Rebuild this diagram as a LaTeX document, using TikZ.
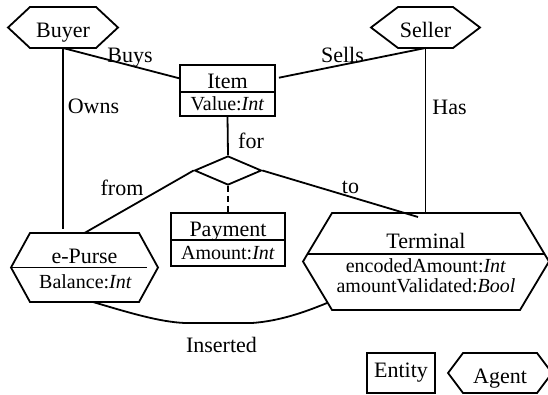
\documentclass[tikz,border=0pt]{standalone}
\usepackage{fontspec}
\setmainfont{Liberation Serif}
\usetikzlibrary{positioning,shapes.geometric}

\newcommand\namefont{\fontsize{22}{26}\selectfont}
\newcommand\attrfont{\fontsize{20}{24}\selectfont}

% hexagon round a node: node name, length of the points
\newcommand\agenthex[2]{%
  \draw[conn] (#1.north west) -- (#1.north east) -- ([xshift=#2]#1.east)
    -- (#1.south east) -- (#1.south west) -- ([xshift=-#2]#1.west) -- cycle;}

\tikzset{
  conn/.style={line width=1.8pt},
  entitybox/.style={draw, line width=1.8pt, font=\namefont, inner sep=0pt, outer sep=0pt,
    minimum height=27pt, text height=20pt, text depth=0pt},
  attrbox/.style={draw, line width=1.8pt, font=\attrfont, inner sep=0pt, outer sep=0pt},
  agentbox/.style={font=\namefont, inner sep=0pt, outer sep=0pt,
    minimum height=41pt, text height=20pt, text depth=0pt},
  title/.style={font=\namefont, anchor=base, inner sep=0pt},
  attr/.style={font=\attrfont, anchor=base, inner sep=0pt},
  lbl/.style={font=\namefont, anchor=base, inner sep=0pt},
}

\begin{document}
\begin{tikzpicture}[x=1pt, y=-1pt]
\useasboundingbox (0,0) rectangle (548,394);

% agents
\node[agentbox, minimum width=66pt] (buyer) at (63,27.5) {Buyer};
\agenthex{buyer}{22pt}
\node[agentbox, minimum width=55pt] (seller) at (425.5,27.5) {Seller};
\agenthex{seller}{27pt}

% entities
\node[entitybox, minimum width=95pt] (item) at (227.5,78.5) {Item};
\node[attrbox, minimum width=95pt, minimum height=24pt, below=0pt of item] (item-attr) {Value:\textit{Int}};
\node[entitybox, minimum width=114pt] (payment) at (228,226.5) {Payment};
\node[attrbox, minimum width=114pt, minimum height=26pt, below=0pt of payment] (payment-attr) {Amount:\textit{Int}};

% e-purse
\node[agentbox, minimum width=109pt, minimum height=69pt] (epurse) at (84.5,267.5) {};
\agenthex{epurse}{19pt}
\draw[conn] ([xshift=-19pt]epurse.west) -- ([xshift=8pt]epurse.east);
\node[title] (epurse-name) at ([yshift=4.5pt]epurse.center) {e-Purse};
\node[attr] (epurse-attr) at ([xshift=1pt,yshift=-20.5pt]epurse.center) {Balance:\textit{Int}};

% terminal
\node[agentbox, minimum width=188pt, minimum height=97pt] (terminal) at (426,261.5) {};
\agenthex{terminal}{29pt}
\draw[conn] ([xshift=-24.5pt,yshift=7.5pt]terminal.west) -- ([xshift=24.5pt,yshift=7.5pt]terminal.east);
\node[title] (terminal-name) at ([yshift=13.5pt]terminal.center) {Terminal};
\node[attr] (terminal-attr1) at ([yshift=-10.5pt]terminal.center) {encodedAmount:\textit{Int}};
\node[attr] (terminal-attr2) at ([yshift=-30.5pt]terminal.center) {amountValidated:\textit{Bool}};

% relationship
\node[diamond, draw, line width=1.8pt, minimum width=67pt, minimum height=29pt, inner sep=0pt] (pay-rel) at (228,170.5) {};

% connectors
\draw[conn] (buyer.south) -- (item.west) node[lbl] (buys) at (130,62) {Buys};
\draw[conn, shorten >=4pt] (buyer.south) -- (buyer.south |- epurse.north) node[lbl] (owns) at (93.5,113) {Owns};
\draw[conn, shorten >=4pt] (seller.south) -- (item.east) node[lbl] (sells) at (342.5,62) {Sells};
\draw[conn] (seller.south) -- (seller.south |- terminal.north) node[lbl] (has) at (449.5,114) {Has};
\draw[conn] (item-attr.south) -- (pay-rel.north) node[lbl] (for) at (251,148) {for};
\draw[conn] (pay-rel.west) -- (epurse.north) node[lbl] (from) at (122,195) {from};
\draw[conn] (pay-rel.east) -- ([xshift=-8pt,yshift=-4pt]terminal.north) node[lbl] (to) at (350.5,193) {to};
\draw[conn, dash pattern=on 6pt off 4pt] (pay-rel.south) -- (payment.north);

\coordinate (ins-start) at ([xshift=8.5pt]epurse.south);
\coordinate (ins-end) at ([xshift=-5pt,yshift=7pt]terminal.south west);
\draw[conn] (ins-start) .. controls (130,313) and (160,322) .. (185,323) -- (252,323)
  .. controls (280,321) and (305,312) .. (ins-end);
\node[lbl] (inserted) at (221.5,352) {Inserted};

% legend
\node[draw, line width=1.8pt, font=\namefont, inner sep=0pt, minimum width=68pt, minimum height=40pt] (legend-entity) at (401,373) {Entity};
\node[agentbox, minimum width=74pt, minimum height=40pt] (legend-agent) at (500,373) {Agent};
\agenthex{legend-agent}{15pt}

\end{tikzpicture}
\end{document}
